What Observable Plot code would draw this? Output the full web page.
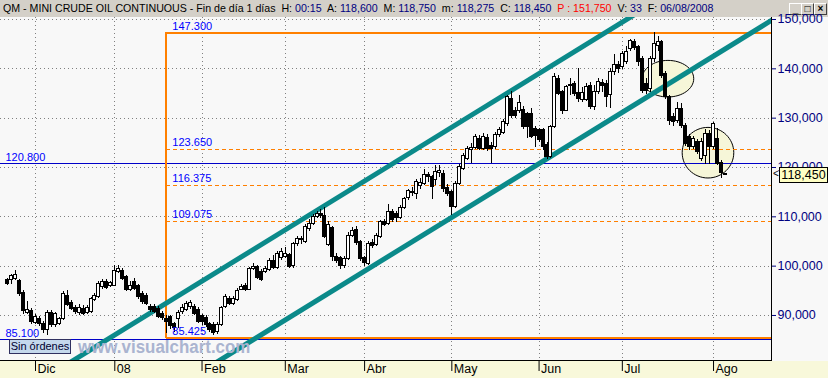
<!DOCTYPE html>
<html>
<head>
<meta charset="utf-8">
<script src="https://cdn.jsdelivr.net/npm/d3@7"></script>
<script src="https://cdn.jsdelivr.net/npm/@observablehq/plot@0.6"></script>
<style>
  html, body { margin: 0; padding: 0; }
  body { width: 828px; height: 378px; overflow: hidden; position: relative; background: #f8f8f8; font-family: "Liberation Sans", Arial, sans-serif; }
  #hdr { position: absolute; left: 0; top: 0; width: 828px; height: 17px; background: #d4d0c8; }
  #htext { position: absolute; left: 3px; top: 2px; font-size: 11.5px; line-height: 13px; white-space: nowrap; color: #000; transform-origin: 0 0; }
  #htext .v { color: #000080; }
  #htext .p { color: #ff0000; }
  .btn { position: absolute; top: 3px; width: 11px; height: 10px; background: #d4d0c8; border-top: 1px solid #fff; border-left: 1px solid #fff; border-right: 1px solid #404040; border-bottom: 1px solid #404040; font-size: 10px; line-height: 10px; text-align: center; color: #000; font-weight: bold; }
  #strip { position: absolute; left: 0; top: 361px; width: 828px; height: 17px; background: #f8f8da; }
  #chart { position: absolute; left: 0; top: 17px; }
  #frame { position: absolute; left: 0; top: 17px; width: 771px; height: 343px; border-right: 1px solid #000; border-bottom: 1px solid #000; pointer-events: none; }
  #sin { position: absolute; left: 9px; top: 339px; width: 60px; height: 13px; background: #c4d8ec; border: 1px solid #303060; font-size: 11px; line-height: 13px; color: #000030; text-align: center; }
  #wm { position: absolute; left: 78px; top: 339px; font-size: 18px; line-height: 17px; font-weight: bold; color: #aab4d0; white-space: nowrap; transform-origin: 0 0; }
  #pbox { position: absolute; left: 779px; width: 47px; height: 14px; background: #ffffc4; border: 1px solid #000; font-size: 12.5px; line-height: 14px; text-align: center; color: #000; }
  #parr { position: absolute; left: 773px; font-size: 10px; color: #000; }
</style>
</head>
<body>
<div id="hdr">
  <div id="htext">QM - MINI CRUDE OIL CONTINUOUS - Fin de día 1 días&nbsp; H: <span class="v">00:15</span>&nbsp; A: <span class="v">118,600</span>&nbsp; M: <span class="v">118,750</span>&nbsp; m: <span class="v">118,275</span>&nbsp; C: <span class="v">118,450</span>&nbsp; <span class="p">P : 151,750</span>&nbsp; V: <span class="v">33</span>&nbsp; F: <span class="v">06/08/2008</span></div>
  <div class="btn" style="left:789px">_</div>
  <div class="btn" style="left:801px">□</div>
  <div class="btn" style="left:814px">×</div>
</div>
<div id="strip"></div>
<div id="chart"></div>
<div id="frame"></div>
<div id="wm">www.visualchart.com</div>
<div id="sin">Sin órdenes</div>
<div id="parr">&lt;</div>
<div id="pbox">118,450</div>
<script>
// ---- Daily bars (index 0 = first bar shown, late Nov 2007; last = 6 Aug 2008) ----
const open = [97.2,97.1,97.4,96.9,94.5,90.6,91.0,88.5,89.3,88.2,
87.0,90.5,88.0,88.3,89.3,94.0,92.5,91.6,90.5,91.4,
90.5,90.8,93.2,93.8,95.8,96.7,96.0,96.0,98.8,99.1,
97.8,95.2,96.8,96.0,94.4,94.0,91.8,91.7,91.4,90.4,
89.3,89.7,88.2,89.3,90.7,91.2,91.8,91.7,91.2,89.8,
89.4,88.3,88.0,86.6,88.0,91.7,93.4,92.4,93.2,95.2,
95.9,95.1,99.5,99.9,98.9,98.8,99.2,101.0,99.7,101.6,
101.9,102.2,100.1,104.5,105.5,104.9,107.6,108.6,110.0,110.5,
110.1,104.2,107.7,101.9,101.7,100.0,101.5,106.2,107.4,104.9,
101.6,100.5,104.7,104.2,105.9,108.9,108.6,111.0,110.5,109.8,
111.8,113.9,114.8,114.7,116.2,116.7,118.4,118.0,117.5,118.9,
118.7,115.8,115.0,112.0,116.7,119.7,121.8,123.6,124.0,125.8,
123.8,126.0,124.4,124.2,126.5,127.0,128.8,133.9,131.5,131.5,
131.7,130.9,130.9,127.8,127.6,127.6,124.5,122.1,128.3,138.0,
135.3,131.5,136.5,137.0,135.2,133.7,133.6,136.6,132.3,135.3,
137.2,137.0,134.6,139.3,140.7,140.3,141.3,144.1,145.4,144.4,
142.0,137.0,136.0,142.0,144.7,145.4,139.0,134.3,130.2,129.5,
131.9,128.5,126.1,124.1,125.1,121.8,122.4,126.8,124.1,125.8,
121.0,118.6];
const high = [97.5,98.3,99.1,97.3,95.0,92.9,91.4,90.1,89.8,88.8,
91.0,91.0,90.7,89.6,94.9,95.0,93.0,92.0,92.3,92.0,
92.0,93.6,94.4,96.8,97.3,97.2,96.9,100.1,100.1,99.5,
98.2,96.8,97.4,96.3,94.8,94.4,92.3,92.2,91.8,90.8,
89.9,90.0,88.6,91.0,92.2,92.8,93.0,92.2,91.6,90.2,
89.9,88.6,88.5,88.5,91.9,94.2,93.8,93.9,95.4,96.3,
96.4,99.7,100.5,100.2,99.3,100.0,101.6,102.2,102.9,103.6,
103.8,102.6,104.8,106.0,106.0,108.5,109.4,110.5,111.0,111.4,
111.8,109.0,108.1,102.5,102.0,102.0,106.8,107.9,108.0,105.2,
102.0,105.0,105.5,106.7,109.3,109.5,112.4,111.5,111.0,112.2,
114.0,115.6,116.0,117.6,117.8,119.6,119.0,118.4,120.5,120.4,
119.3,116.5,115.4,117.2,120.6,122.8,124.3,124.8,126.6,126.4,
126.8,126.6,125.0,127.1,128.2,129.8,134.6,135.5,132.2,134.5,
132.3,131.2,132.0,128.3,128.0,128.0,125.0,128.6,139.0,138.6,
135.6,136.7,138.0,137.4,140.0,136.2,137.0,137.3,136.6,138.0,
137.8,137.6,140.0,143.0,141.5,143.6,144.6,146.0,146.0,144.8,
142.5,138.0,142.5,147.3,146.6,145.8,139.5,134.6,131.0,133.2,
133.0,128.9,126.6,126.3,125.7,125.8,127.8,127.5,129.2,128.0,
121.4,118.75];
const low = [96.1,96.3,97.0,93.9,90.2,90.3,88.2,88.1,87.8,86.3,
86.0,87.6,87.5,88.0,89.0,91.9,91.0,90.3,90.0,89.9,
90.2,90.5,92.9,93.5,95.3,95.2,95.6,95.8,98.5,97.1,
94.8,94.9,95.0,93.3,92.3,92.0,90.7,90.5,89.4,88.9,
86.3,87.2,86.5,87.3,90.2,90.9,91.2,90.0,88.3,88.0,
87.6,86.6,86.0,86.2,87.8,91.4,92.0,92.0,92.9,95.0,
94.8,95.0,99.2,97.2,96.8,98.5,98.9,99.4,99.4,101.2,
101.6,99.5,99.6,104.0,104.3,104.6,107.0,108.2,109.6,109.7,
105.7,104.0,101.0,100.5,99.4,99.6,101.2,105.8,104.2,101.0,
100.0,100.1,103.6,103.9,105.6,108.0,108.3,108.8,108.9,109.5,
111.4,113.3,114.1,113.5,115.5,116.3,117.0,113.6,116.4,118.0,
115.0,114.2,110.3,111.6,116.3,119.3,121.4,120.8,123.6,123.4,
123.5,123.3,120.8,123.6,126.0,126.6,128.4,130.0,130.0,131.0,
127.8,125.8,125.8,124.0,125.0,123.4,121.6,121.9,128.0,134.5,
130.8,131.3,134.5,134.4,133.2,133.2,133.3,131.7,131.5,134.8,
135.2,132.2,131.9,138.6,139.0,139.8,140.8,143.5,143.8,140.4,
135.0,134.8,135.2,141.3,143.6,138.0,133.8,128.6,128.3,129.0,
128.0,124.3,123.4,123.6,122.6,121.3,120.7,120.7,123.6,120.4,
117.8,118.275];
const close = [96.4,98.1,98.3,94.4,91.0,91.2,88.6,89.6,88.2,87.0,
90.5,88.0,90.3,89.2,94.4,92.2,91.4,90.8,91.5,90.2,
91.5,93.4,94.0,96.4,96.7,95.6,96.5,99.1,99.4,97.4,
95.1,96.0,95.4,93.7,92.7,92.4,91.1,90.8,89.7,89.4,
88.6,87.8,87.4,90.6,91.5,92.4,92.5,90.4,88.7,88.7,
88.0,87.0,86.5,88.0,91.6,93.7,92.4,93.4,95.0,95.7,
95.2,99.4,99.9,97.5,97.2,99.5,101.1,99.7,102.4,102.8,
102.5,99.8,104.5,105.5,105.2,107.9,108.6,110.0,110.5,110.2,
106.0,108.4,101.8,101.1,100.0,101.5,106.2,107.2,104.6,101.5,
100.6,104.5,104.0,106.2,108.9,108.4,111.0,109.3,109.8,111.8,
113.6,115.2,115.1,117.0,116.9,118.4,118.0,116.0,119.0,119.3,
115.6,114.7,112.0,116.7,120.2,122.4,123.8,124.0,126.1,123.8,
126.1,123.8,123.8,126.5,127.5,129.2,134.2,130.5,130.5,133.0,
128.2,128.2,126.1,126.3,125.5,124.1,122.1,128.3,138.3,134.9,
131.5,136.4,136.8,134.8,133.8,135.0,136.3,132.2,135.3,137.3,
136.6,134.3,139.3,140.8,140.0,143.0,143.4,145.7,144.3,141.3,
135.6,135.6,142.0,145.0,145.4,138.6,134.3,129.5,129.2,131.9,
128.5,124.8,124.1,125.8,123.1,125.1,126.8,124.1,128.8,120.75,
118.9,118.45];

// ---- Axis ticks ----
const monthLabels = ["Dic", "08", "Feb", "Mar", "Abr", "May", "Jun", "Jul", "Ago"];
const monthStart = [7, 27, 49, 70, 90, 112, 134, 155, 178];   // bar index of first session of each month
const yTicks = [90, 100, 110, 120, 130, 140, 150];

// ---- Drawings ----
const fibStart = 40;                                     // bar where the retracement starts
const fibLevels = [147.3, 123.65, 116.375, 109.075, 85.425];
const fibLabels = ["147.300", "123.650", "116.375", "109.075", "85.425"];
const fibSolid = [147.3, 85.425];
const userLines = [120.8, 85.1];
const userLabels = ["120.800", "85.100"];
const channelLines = [
  {x1: 10, y1: 77.65, x2: 180, y2: 161.85},
  {x1: 50, y1: 79.2,  x2: 195, y2: 151.0}
];
const ellipseCenters = [[166.5, 138.0], [176.6, 123.0]];
const lastClose = 118.45;

// ---- build ----
const bars = open.map((o, i) => ({i, o, h: high[i], l: low[i], c: close[i]}));
const xDom = [-1.83, 192.62];
const yDom = [80.874, 150.405];
const fmtY = d => d3.format(".3f")(d).replace(".", ",");

function ellipseSymbol(ratio) {
  return {
    draw(ctx, size) {
      const rx = Math.sqrt(size / Math.PI), ry = rx * ratio, k = 0.5522847498;
      ctx.moveTo(rx, 0);
      ctx.bezierCurveTo(rx, ry * k, rx * k, ry, 0, ry);
      ctx.bezierCurveTo(-rx * k, ry, -rx, ry * k, -rx, 0);
      ctx.bezierCurveTo(-rx, -ry * k, -rx * k, -ry, 0, -ry);
      ctx.bezierCurveTo(rx * k, -ry, rx, -ry * k, rx, 0);
      ctx.closePath();
    }
  };
}

const chart = Plot.plot({
  width: 828,
  height: 361,
  marginLeft: 0, marginRight: 57, marginTop: 0, marginBottom: 18,
  x: {domain: xDom},
  y: {domain: yDom},
  style: {background: "transparent", fontFamily: "Liberation Sans, Arial, sans-serif", overflow: "visible"},
  marks: [
    // dotted grid
    Plot.ruleY(yTicks, {stroke: "#808080", strokeDasharray: "1,3", shapeRendering: "crispEdges"}),
    Plot.ruleX(monthStart, {stroke: "#808080", strokeDasharray: "1,3", shapeRendering: "crispEdges"}),
    // highlight ellipses
    Plot.dot([ellipseCenters[0]], {x: d => d[0], y: d => d[1], r: 25.8, symbol: ellipseSymbol(18.3 / 25.8), fill: "#f6f6d8", stroke: "#000", strokeWidth: 1}),
    Plot.dot([ellipseCenters[1]], {x: d => d[0], y: d => d[1], r: 25.8, symbol: ellipseSymbol(25.3 / 25.8), fill: "#f6f6d8", stroke: "#000", strokeWidth: 1}),
    // user horizontal lines
    Plot.ruleY(userLines, {stroke: "#0000c8", strokeWidth: 1, shapeRendering: "crispEdges"}),
    // Fibonacci retracement
    Plot.ruleY(fibLevels.filter(v => !fibSolid.includes(v)), {x1: fibStart, x2: xDom[1], stroke: "#ff7f00", strokeWidth: 1.4, strokeDasharray: "4,3", shapeRendering: "crispEdges"}),
    Plot.ruleY(fibSolid, {x1: fibStart, x2: xDom[1], stroke: "#ff8000", strokeWidth: 2, shapeRendering: "crispEdges"}),
    Plot.ruleX([fibStart], {y1: fibSolid[1], y2: fibSolid[0], stroke: "#ff8000", strokeWidth: 2, shapeRendering: "crispEdges"}),
    // channel lines
    Plot.link(channelLines, {x1: "x1", y1: "y1", x2: "x2", y2: "y2", stroke: "#0b8a8a", strokeWidth: 5, clip: true}),
    // candles
    Plot.ruleX(bars, {x: "i", y1: "l", y2: "h", stroke: "#000", strokeWidth: 1, shapeRendering: "crispEdges"}),
    Plot.rect(bars, {x1: d => d.i - 0.38, x2: d => d.i + 0.38, y1: d => Math.min(d.o, d.c), y2: d => Math.max(d.o, d.c),
      fill: d => d.c >= d.o ? "#ffffff" : "#000000", stroke: "#000", strokeWidth: 1, shapeRendering: "crispEdges"}),
    // labels
    Plot.text(fibLevels, {x: fibStart, y: d => d, text: (d, i) => fibLabels[i], textAnchor: "start", lineAnchor: "bottom", dx: 6, dy: -3, fill: "#0000ff", fontSize: 11}),
    Plot.text(userLines, {frameAnchor: "left", y: d => d, text: (d, i) => userLabels[i], textAnchor: "start", lineAnchor: "bottom", dx: 5, dy: -3, fill: "#0000ff", fontSize: 11}),
    // axes
    Plot.axisY(yTicks, {anchor: "right", tickSize: 4, tickPadding: 2, tickFormat: fmtY, stroke: "#000080", fill: "#000080", fontSize: 12.5, label: null}),
    Plot.axisX(monthStart, {anchor: "bottom", tickSize: 11, tickFormat: () => "", stroke: "#000", label: null}),
    Plot.axisX(monthStart, {anchor: "bottom", tickSize: 0, tickPadding: 4, tickFormat: d => monthLabels[monthStart.indexOf(d)], textAnchor: "start", dx: 2, fill: "#000", fontSize: 12.5, label: null})
  ]
});
document.getElementById("chart").appendChild(chart);

// fit header line and watermark to their widths in the reference
const ht = document.getElementById("htext");
ht.style.transform = "scaleX(" + (710 / ht.offsetWidth) + ")";
const wm = document.getElementById("wm");
wm.style.transform = "scaleX(" + (172 / wm.offsetWidth) + ")";

// price marker positioned through the y scale
const yPix = chart.scale("y").apply(lastClose) + 17;
document.getElementById("pbox").style.top = (yPix - 8) + "px";
document.getElementById("parr").style.top = (yPix - 7) + "px";
</script>
</body>
</html>
